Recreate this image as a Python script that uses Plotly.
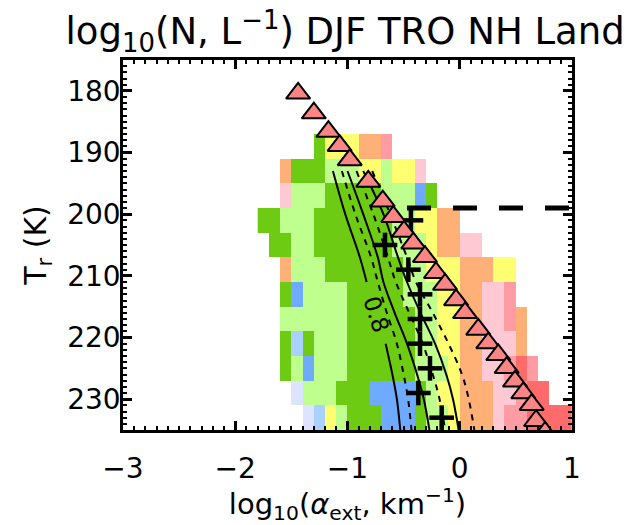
import plotly.graph_objects as go

# ---------------- data ----------------
alpha_bins = [-1.75, -1.65, -1.55, -1.45, -1.35, -1.25, -1.15, -1.05, -0.95, -0.85,
              -0.75, -0.65, -0.55, -0.45, -0.35, -0.25, -0.15, -0.05, 0.05, 0.15,
              0.25, 0.35, 0.45, 0.55, 0.65, 0.75, 0.85, 0.95]
temp_bins = [189, 193, 197, 201, 205, 209, 213, 217, 221, 225, 229, 233]

# log10(N) class per bin (V<b<B<D<L<Y<O<p<P<R, '.' = no data)
class_rows = [
    ".....DYYYOOP",
    "..ODDDLLLYYLYYp",
    "..pLLLDDDDDLLLBD",
    "DDLLLDDDDDDDLLYYOO",
    ".DDLLDDDDDDDLLLYOOpp",
    "..OLLLDDDDDDDLLYYYOOOYY",
    "..DBLLLLDDDDDLLLYYOOppP",
    "..LLLLLLDDDDDDLLYYOOppPO",
    "..DbDLLLDDDDDDLLYYOOpppO",
    "..DLBLLLDDDDDDLLLYOOppPRP",
    "...VLLLDDDBBBBDLYYOOOppPRR",
    "....VbYLDDDBBBDLLYOOOpPPRRRR",
]
class_codes = "VbBDLYOpPR"
class_colors = ["#dde4ff", "#a9d0ff", "#6eaaff", "#6ccb12", "#bfff8e",
                "#ffff72", "#ffb077", "#ffc9d3", "#ff9ba3", "#ff6b6b"]

tri_x = [-1.44, -1.30, -1.17, -1.07, -0.98, -0.815, -0.686, -0.592, -0.497, -0.414,
         -0.31, -0.212, -0.131, -0.033, 0.047, 0.165, 0.254, 0.343, 0.418, 0.492,
         0.566, 0.641, 0.68, 0.76]
tri_T = [180.4, 183.6, 186.6, 188.9, 191.2, 194.7, 197.9, 200.4, 202.8, 204.7,
         206.9, 209.5, 211.4, 213.9, 216.0, 218.7, 220.9, 222.8, 224.9, 227.1,
         229.0, 230.9, 233.5, 235.4]

cross_x = [-0.435, -0.666, -0.458, -0.354, -0.354, -0.354, -0.265, -0.369, -0.161]
cross_T = [201, 205, 209, 213, 217, 221, 225, 229, 233]
cross_dx = [0.11] * 9
cross_dT = [2] * 9

tropo_x = [-0.47, 1.0]
tropo_T = [199, 199]

contour_T = [193, 200, 207, 211, 216, 221, 226, 230, 235]
c1_x = [-1.13, -1.02, -0.89, -0.83, None, -0.66, -0.60, -0.56, -0.53]
c2_x = [-1.05, -0.93, -0.79, -0.73, -0.65, -0.56, -0.50, -0.46, -0.43]
c3_x = [-1.00, -0.86, -0.73, -0.68, -0.58, -0.47, -0.38, -0.32, -0.27]
c4_x = [-0.92, -0.77, -0.64, -0.57, -0.45, -0.33, -0.24, -0.18, -0.13]
c5_x = [-0.86, -0.68, -0.55, -0.47, -0.35, -0.22, -0.12, -0.06, -0.01]
c6_x = [-0.78, -0.62, -0.47, -0.39, -0.24, -0.10, 0.02, 0.08, 0.13]

# ---------------- figure ----------------
n = len(class_codes)
z = []
for row in class_rows:
    row = row.ljust(len(alpha_bins), ".")
    z.append([None if ch == "." else class_codes.index(ch) + 1 for ch in row])

cs = []
for i, c in enumerate(class_colors):
    cs.append([i / n, c])
    cs.append([(i + 1) / n, c])

fig = go.Figure()
fig.add_trace(go.Heatmap(x=alpha_bins, y=temp_bins, z=z, colorscale=cs,
                         zmin=0.5, zmax=n + 0.5, showscale=False, hoverinfo="skip"))

FONT = "DejaVu Sans"
for cx, dash in [(c1_x, "solid"), (c2_x, "6px,6px"), (c3_x, "solid"),
                 (c4_x, "6px,6px"), (c5_x, "solid"), (c6_x, "6px,6px")]:
    fig.add_trace(go.Scatter(x=cx, y=contour_T, mode="lines", connectgaps=False,
                             line=dict(color="black", width=2, dash=dash, shape="spline"),
                             showlegend=False, hoverinfo="skip"))

fig.add_trace(go.Scatter(x=tropo_x, y=tropo_T, mode="lines",
                         line=dict(color="black", width=5, dash="24px,22px"),
                         showlegend=False))

fig.add_trace(go.Scatter(x=cross_x, y=cross_T, mode="markers",
                         marker=dict(size=1, color="black"),
                         error_x=dict(type="data", array=cross_dx, color="black", thickness=4.5, width=0),
                         error_y=dict(type="data", array=cross_dT, color="black", thickness=4.5, width=0),
                         showlegend=False))

fig.add_trace(go.Scatter(x=tri_x, y=tri_T, mode="markers",
                         marker=dict(symbol="triangle-up", size=21, color="#fa8585",
                                     line=dict(color="black", width=2)),
                         showlegend=False))

fig.add_annotation(x=-0.74, y=216.3, text="0.8", showarrow=False, textangle=72,
                   font=dict(family=FONT, size=23, color="black"))

axis_common = dict(showline=True, linecolor="black", linewidth=2.5, mirror="allticks",
                   ticks="inside", tickcolor="black", tickwidth=2.5, ticklen=9,
                   showgrid=False, zeroline=False,
                   tickfont=dict(family=FONT, size=28, color="black"))

fig.update_xaxes(range=[-3, 1], tickvals=[-3, -2, -1, 0, 1],
                 ticktext=["\u22123", "\u22122", "\u22121", "0", "1"],
                 minor=dict(ticks="inside", dtick=0.1, ticklen=4, tickwidth=1.5, tickcolor="black"),
                 title=dict(text="log<sub>10</sub>(<i>\u03b1</i><sub>ext</sub>, km<sup>\u22121</sup>)",
                            font=dict(family=FONT, size=29, color="black"), standoff=4),
                 ticklabelstandoff=12, **axis_common)
fig.update_yaxes(range=[235, 175], tickvals=[180, 190, 200, 210, 220, 230],
                 minor=dict(ticks="inside", dtick=1, ticklen=4, tickwidth=1.5, tickcolor="black"),
                 title=dict(text="T<sub>r</sub> (K)", font=dict(family=FONT, size=30, color="black"),
                            standoff=12),
                 ticklabelstandoff=-6, **axis_common)

fig.update_layout(
    width=631, height=525,
    margin=dict(l=123, r=59, t=60, b=95),
    paper_bgcolor="white", plot_bgcolor="white",
    title=dict(text="log<sub>10</sub>(N, L<sup>\u22121</sup>) DJF TRO NH Land",
               x=0.547, xanchor="center", y=0.94, yanchor="middle", yref="container",
               font=dict(family=FONT, size=37, color="black")),
    showlegend=False,
)

fig.write_html("out.html")
